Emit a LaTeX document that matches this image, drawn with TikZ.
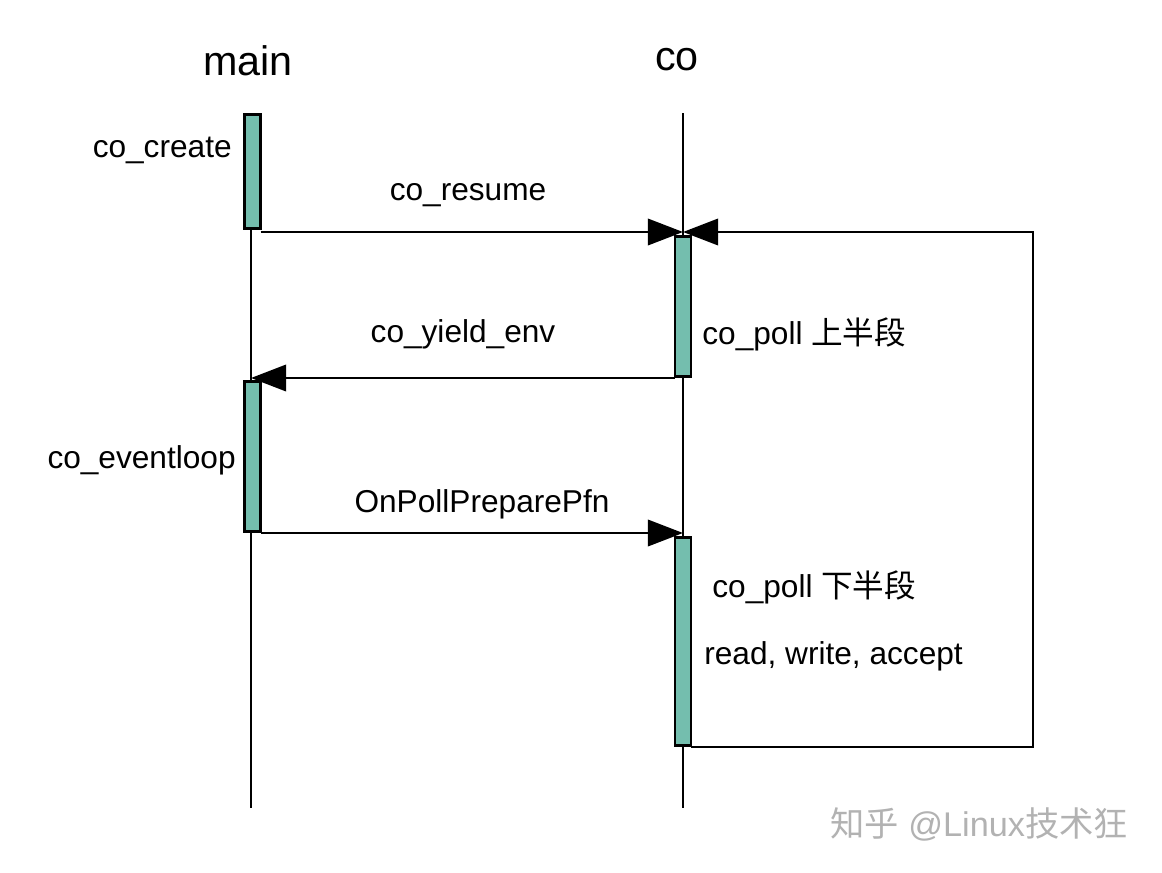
\documentclass[tikz,border=0pt]{standalone}
\usepackage{fontspec}
\setmainfont{Liberation Sans}
\newfontfamily\cjk{Noto Sans CJK SC}
\usepackage{tikz}
\usetikzlibrary{arrows.meta}
\definecolor{actfill}{HTML}{74BEAE}
\tikzstyle{Act}=[rectangle, draw=black, line width=1.6pt, fill=actfill, minimum width=0.32cm, inner sep=0, outer sep=0]
\tikzstyle{Life}=[line width=1.5pt]
\tikzstyle{Msg}=[line width=1.5pt, -{Triangle[length=20pt,width=15pt]}]
\tikzstyle{Lbl}=[font=\fontsize{18pt}{21pt}\selectfont, inner sep=0]
\tikzstyle{Head}=[font=\fontsize{23.5pt}{27pt}\selectfont, inner sep=0]

\begin{document}
\begin{tikzpicture}[x=0.02cm, y=-0.02cm]
    \useasboundingbox (0,0) rectangle (1162,872);
    \path
    (251,230) coordinate (mtop)
    (251,808) coordinate (mbot)
    (683,113) coordinate (ctop)
    (683,808) coordinate (cbot)
    (683,232) coordinate (resumein)
    (251,378) coordinate (yieldin)
    (683,533) coordinate (preparein)
    (1033,747) coordinate (loopcorner);

    \draw[Life] (mtop) -- (mbot);
    \draw[Life] (ctop) -- (cbot);

    \path
    (252.5,171.5) node[Act, minimum height=2.28cm] (create) {}
    (252.5,456.5) node[Act, minimum height=3cm] (eventloop) {}
    (683,306.5) node[Act, minimum height=2.8cm] (pollup) {}
    (683,641.5) node[Act, minimum height=4.16cm] (polldown) {};

    \draw[Msg] (create.east |- resumein) -- (resumein);
    \draw[Msg] (pollup.west |- yieldin) -- (yieldin);
    \draw[Msg] (eventloop.east |- preparein) -- (preparein);
    \draw[Msg] (polldown.east |- loopcorner) -- (loopcorner) |- (resumein);

    \path
    (create) node[Act, minimum height=2.28cm] {}
    (eventloop) node[Act, minimum height=3cm] {}
    (pollup) node[Act, minimum height=2.8cm] {}
    (polldown) node[Act, minimum height=4.16cm] {};

    \path
    (248,61) node[Head] (mainlbl) {main}
    (677,60) node[Head] (colbl) {co}
    (232,150) node[Lbl, anchor=east] (createlbl) {co\_create}
    (468,195) node[Lbl] (resumelbl) {co\_resume}
    (463,334) node[Lbl] (yieldlbl) {co\_yield\_env}
    (702,334) node[Lbl, anchor=west] (uplbl) {co\_poll {\cjk 上半段}}
    (236,460) node[Lbl, anchor=east] (looplbl) {co\_eventloop}
    (482,504) node[Lbl] (preparelbl) {OnPollPreparePfn}
    (712,587) node[Lbl, anchor=west] (downlbl) {co\_poll {\cjk 下半段}}
    (704,656) node[Lbl, anchor=west] (iolbl) {read, write, accept}
    (830,824) node[Lbl, anchor=west, text=black!30, font=\fontsize{19.5pt}{22pt}\selectfont] (mark) {{\cjk 知乎} @Linux{\cjk 技术狂}};
\end{tikzpicture}
\end{document}
